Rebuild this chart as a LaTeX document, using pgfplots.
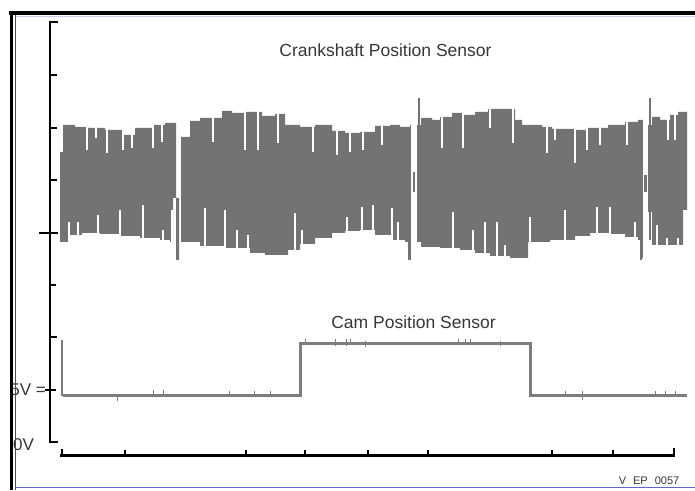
\documentclass[border=0pt]{standalone}
\usepackage{pgfplots}
\pgfplotsset{compat=1.18}
\usepgfplotslibrary{fillbetween}
\usepackage{fontspec}
\setmainfont{Liberation Sans}
\definecolor{crank}{RGB}{115,115,115}
\definecolor{cam}{RGB}{125,125,125}
\definecolor{lbl}{RGB}{55,55,55}
\definecolor{frameblue}{RGB}{60,60,200}
\definecolor{paleblue}{RGB}{200,205,240}
\begin{document}
\begin{tikzpicture}
\begin{axis}[width=695pt,height=490pt,scale only axis,
  xmin=0,xmax=695,ymin=0,ymax=490,y dir=reverse,
  axis line style={draw=none},xtick=\empty,ytick=\empty,
  axis background/.style={fill=white},
  unbounded coords=jump,clip=true]

% ---- Crankshaft position sensor band (upper / lower envelopes, px units)
\addplot[draw=none,const plot,name path=up] coordinates {
(60,152) (63,125) (75,127) (88,128) (105,130) (122,135) (135,128) (152,125)
(165,123) (176,198) (179,200) (181,137) (190,121) (200,118) (222,111) (232,113)
(245,112) (262,116) (275,114) (285,125) (300,127) (315,125) (332,131) (345,133)
(360,132) (375,126) (390,125) (400,127) (410,125) (421,118) (432,120) (440,117)
(452,113) (462,115) (475,112) (488,109) (515,120) (522,125) (542,127) (552,129)
(575,130) (588,128) (608,125) (625,122) (638,120) (643,125) (652,117) (660,120)
(670,115) (678,112) (687,112)};
\addplot[draw=none,const plot,name path=lo] coordinates {
(60,242) (68,235) (82,233) (100,234) (120,236) (140,238) (160,240) (170,242)
(173,198) (176,260) (179,200) (181,242) (200,246) (225,248) (250,253) (265,255)
(288,250) (300,244) (315,238) (332,233) (345,231) (360,230) (375,235) (392,240)
(405,242) (421,247) (440,248) (460,250) (475,253) (490,256) (510,258) (528,242)
(550,240) (575,236) (590,233) (610,234) (625,237) (638,240) (641,258) (643,212)
(652,245) (683,210) (687,210)};
\addplot[fill=crank,draw=none] fill between[of=up and lo];

% white notches from the top
\addplot[white,line width=2pt] coordinates {
(87,100) (87,150) (87,nan) (96,100) (96,138) (96,nan) (107,100) (107,153) (107,nan)
(123,100) (123,150) (123,nan) (132,100) (132,148) (132,nan) (153,100) (153,148) (153,nan)
(162,100) (162,142) (162,nan) (213,100) (213,142) (213,nan) (245,100) (245,150) (245,nan)
(258,100) (258,150) (258,nan) (278,100) (278,143) (278,nan) (313,100) (313,152) (313,nan)
(337,100) (337,155) (337,nan) (350,100) (350,152) (350,nan) (363,100) (363,150) (363,nan)
(382,100) (382,145) (382,nan) (442,100) (442,148) (442,nan) (463,100) (463,148) (463,nan)
(490,100) (490,128) (490,nan) (513,100) (513,143) (513,nan) (547,100) (547,153) (547,nan)
(555,100) (555,140) (555,nan) (575,100) (575,163) (575,nan) (587,100) (587,150) (587,nan)
(600,100) (600,145) (600,nan) (627,100) (627,145) (627,nan) (668,100) (668,140) (668,nan)
(675,100) (675,140)};
% white notches from the bottom
\addplot[white,line width=2pt] coordinates {
(69,222) (69,265) (69,nan) (78,222) (78,265) (78,nan) (98,215) (98,265) (98,nan)
(120,210) (120,265) (120,nan) (143,205) (143,265) (143,nan) (163,230) (163,265) (163,nan)
(172,210) (172,265) (172,nan) (205,208) (205,265) (205,nan) (225,210) (225,265) (225,nan)
(237,230) (237,265) (237,nan) (248,235) (248,265) (248,nan) (295,213) (295,265) (295,nan)
(302,230) (302,265) (302,nan) (347,217) (347,265) (347,nan) (362,207) (362,265) (362,nan)
(373,205) (373,265) (373,nan) (392,208) (392,265) (392,nan) (398,222) (398,265) (398,nan)
(453,212) (453,265) (453,nan) (473,230) (473,265) (473,nan) (485,222) (485,265) (485,nan)
(497,222) (497,265) (497,nan) (505,245) (505,265) (505,nan) (530,217) (530,265) (530,nan)
(565,210) (565,265) (565,nan) (597,207) (597,265) (597,nan) (610,207) (610,265) (610,nan)
(635,222) (635,265) (635,nan) (657,225) (657,265) (657,nan) (667,238) (667,265) (667,nan)
(678,238) (678,265)};
% cylinder-gap stripes
\addplot[white,line width=6pt] coordinates {(413.5,95) (413.5,265)};
\addplot[white,line width=5pt] coordinates {(645.5,95) (645.5,265)};
\addplot[crank,line width=2.5pt] coordinates {
(409.5,238) (409.5,260) (409.5,nan) (414,172) (414,192) (414,nan)
(419,98) (419,236) (419,nan) (641,120) (641,260) (641,nan)
(645.5,175) (645.5,192) (645.5,nan) (650,98) (650,240)};

% ---- Cam position sensor
\addplot[cam,line width=3pt] coordinates {
(63,395) (300.5,395) (300.5,343) (530,343) (530,395) (687,395)};
\addplot[cam,line width=1.5pt] coordinates {(62,340) (62,396)};
\addplot[cam,line width=1pt] coordinates {
(117,395) (117,401) (117,nan) (153,390) (153,395) (153,nan) (163,390) (163,395) (163,nan)
(229,391) (229,395) (229,nan) (254,391) (254,395) (254,nan) (270,391) (270,395) (270,nan)
(305,339) (305,343) (305,nan) (335,339) (335,346) (335,nan) (346,339) (346,346) (346,nan)
(350,339) (350,343) (350,nan) (365,341) (365,347) (365,nan) (458,339) (458,345) (458,nan)
(465,339) (465,343) (465,nan) (470,339) (470,343) (470,nan) (500,341) (500,346) (500,nan)
(565,391) (565,395) (565,nan) (582,391) (582,400) (582,nan) (655,391) (655,395) (655,nan)
(665,391) (665,395) (665,nan) (675,391) (675,395)};

% ---- scope axes
\addplot[black,line width=2.5pt] coordinates {(58,442) (50,442) (50,22) (58,22)};
\addplot[black,line width=2.2pt] coordinates {
(50,75) (57,75) (57,nan) (50,128) (57,128) (57,nan) (50,180) (57,180) (57,nan)
(39,233) (58,233) (58,nan) (50,285) (56,285) (56,nan) (50,337) (57,337) (57,nan)
(45,390) (56,390)};
\addplot[black,line width=2.8pt] coordinates {(60,455.5) (675,455.5)};
\addplot[black,line width=2pt] coordinates {
(62,455) (62,449) (62,nan) (125,455) (125,450) (125,nan) (246,455) (246,450) (246,nan)
(305,455) (305,450) (305,nan) (368,455) (368,450) (368,nan) (428,455) (428,450) (428,nan)
(552,455) (552,450) (552,nan) (613,455) (613,450) (613,nan) (673.5,455) (673.5,448)};

% ---- texts
\node[font=\fontsize{17.5}{20}\selectfont,text=lbl,inner sep=0pt] at (axis cs:385.5,50) {Crankshaft Position Sensor};
\node[font=\fontsize{17.5}{20}\selectfont,text=lbl,inner sep=0pt] at (axis cs:413.5,322) {Cam Position Sensor};
\node[font=\fontsize{17}{20}\selectfont,text=lbl,inner sep=0pt,anchor=east] at (axis cs:46,390) {5V =};
\node[font=\fontsize{17}{20}\selectfont,text=lbl,inner sep=0pt,anchor=west] at (axis cs:13,445) {0V};
\node[font=\fontsize{11}{12}\selectfont,text=lbl,inner sep=0pt] at (axis cs:649,481) {V\hspace{7pt}EP\hspace{7pt}0057};

% ---- frame
\addplot[paleblue,line width=1pt] coordinates {(15,16.5) (695,16.5)};
\addplot[black,line width=3.5pt] coordinates {(9,13) (695,13)};
\addplot[black,line width=3.5pt] coordinates {(11.5,11.5) (11.5,490)};
\addplot[frameblue,line width=1.5pt] coordinates {(15.7,15) (15.7,490)};
\addplot[frameblue!80,line width=1.5pt] coordinates {(15,487.7) (695,487.7)};
\end{axis}
\end{tikzpicture}
\end{document}
